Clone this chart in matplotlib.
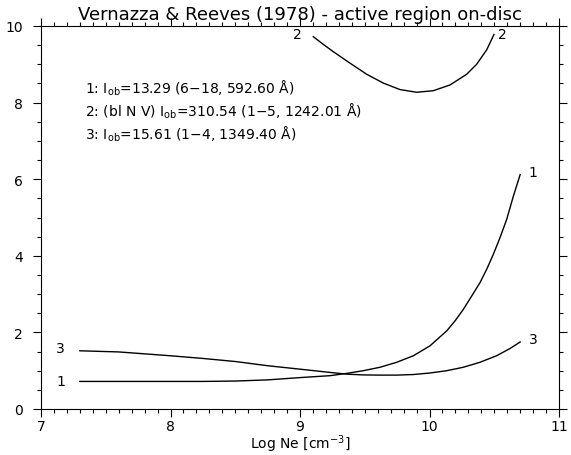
import matplotlib
matplotlib.use("Agg")
import matplotlib.pyplot as plt
from matplotlib.ticker import MultipleLocator

# Data
x1 = [7.30, 7.60, 8.00, 8.25, 8.50, 8.75, 9.00, 9.232, 9.361, 9.489, 9.618, 9.747,
      9.875, 10.004, 10.133, 10.197, 10.261, 10.326, 10.390, 10.442, 10.493,
      10.544, 10.596, 10.647, 10.70]
y1 = [0.72, 0.72, 0.72, 0.72, 0.73, 0.76, 0.82, 0.87, 0.93, 1.00, 1.09, 1.22,
      1.39, 1.65, 2.04, 2.30, 2.60, 2.95, 3.30, 3.65, 4.04,
      4.47, 4.95, 5.55, 6.12]

x2 = [9.103, 9.180, 9.257, 9.386, 9.515, 9.643, 9.772, 9.901, 10.029, 10.158,
      10.287, 10.364, 10.442, 10.498]
y2 = [9.72, 9.52, 9.33, 9.03, 8.74, 8.51, 8.34, 8.27, 8.31, 8.46,
      8.74, 9.00, 9.38, 9.78]

x3 = [7.30, 7.60, 8.00, 8.25, 8.50, 8.75, 9.00, 9.232, 9.361, 9.489, 9.618, 9.747,
      9.875, 10.004, 10.133, 10.261, 10.390, 10.518, 10.622, 10.70]
y3 = [1.52, 1.49, 1.39, 1.32, 1.24, 1.13, 1.04, 0.955, 0.91, 0.89, 0.885, 0.885,
      0.90, 0.94, 1.00, 1.09, 1.22, 1.39, 1.58, 1.75]

title = "Vernazza & Reeves (1978) - active region on-disc"
xlabel = "Log Ne [cm$^{-3}$]"
info_lines = [
    r"1: I$_{\rm ob}$=13.29 (6$-$18, 592.60 Å)",
    r"2: (bl N V) I$_{\rm ob}$=310.54 (1$-$5, 1242.01 Å)",
    r"3: I$_{\rm ob}$=15.61 (1$-$4, 1349.40 Å)",
]

plt.rcParams['font.family'] = ['DejaVu Sans']
plt.rcParams['mathtext.fontset'] = 'dejavusans'

fig = plt.figure(figsize=(5.71, 4.56), dpi=100)
ax = fig.add_axes([41/571, 1-410/456, (559-41)/571, (410-27)/456])

lw = 1.0
ax.plot(x1, y1, color='black', lw=lw)
ax.plot(x2, y2, color='black', lw=lw)
ax.plot(x3, y3, color='black', lw=lw)

fs = 10
# curve labels
ax.text(7.15, y1[0] + 0.02, "1", fontsize=fs, ha='center', va='center')
ax.text(7.15, y3[0] + 0.08, "3", fontsize=fs, ha='center', va='center')
ax.text(10.8, y1[-1] + 0.08, "1", fontsize=fs, ha='center', va='center')
ax.text(10.8, y3[-1] + 0.08, "3", fontsize=fs, ha='center', va='center')
ax.text(8.98, 9.8, "2", fontsize=fs, ha='center', va='center')
ax.text(10.56, 9.8, "2", fontsize=fs, ha='center', va='center')

for i, s in enumerate(info_lines):
    ax.text(7.34, 8.39 - i * 0.6, s, fontsize=fs, ha='left', va='center')

ax.set_xlim(7, 11)
ax.set_ylim(0, 10)
ax.xaxis.set_major_locator(MultipleLocator(1))
ax.xaxis.set_minor_locator(MultipleLocator(0.1))
ax.yaxis.set_major_locator(MultipleLocator(2))
ax.yaxis.set_minor_locator(MultipleLocator(0.5))
ax.tick_params(which='both', direction='out', top=True, right=True,
               labeltop=False, labelright=False, width=0.8, labelsize=fs)
ax.tick_params(which='major', length=6)
ax.tick_params(which='minor', length=3)
ax.tick_params(axis='x', which='major', pad=1)
ax.tick_params(axis='y', which='major', pad=7)
for sp in ax.spines.values():
    sp.set_linewidth(0.8)

ax.set_title(title, fontsize=13, pad=5)
ax.set_xlabel(xlabel, fontsize=fs, labelpad=0)

fig.savefig("out.png", dpi=100)
